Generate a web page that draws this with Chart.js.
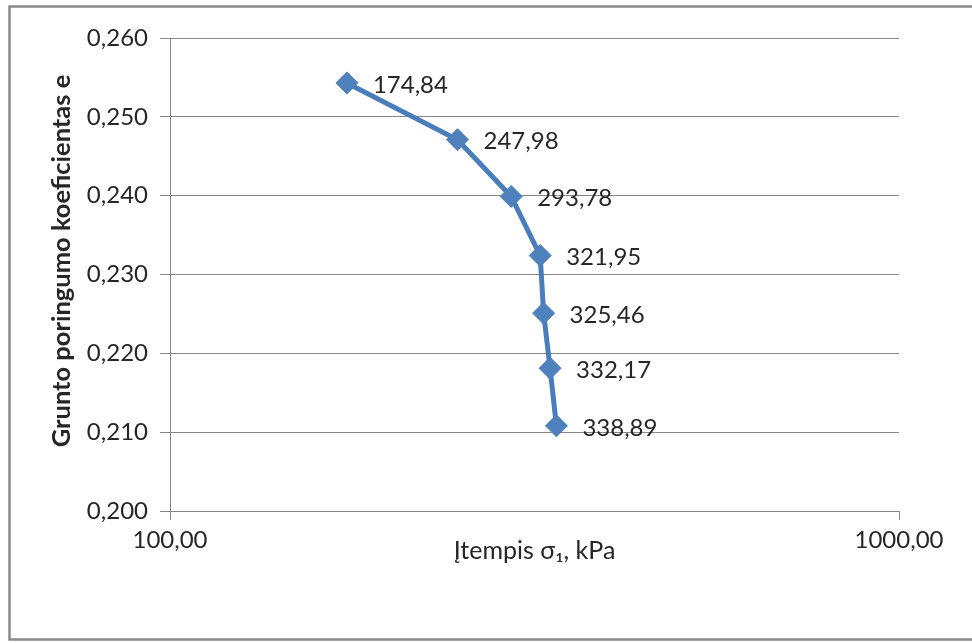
<!DOCTYPE html>
<html>
<head>
<meta charset="utf-8">
<script src="https://cdn.jsdelivr.net/npm/chart.js@4/dist/chart.umd.min.js"></script>
<style>
  html, body { margin: 0; padding: 0; background: #fff; }
  #wrap { width: 972px; height: 643px; }
</style>
</head>
<body>
<div id="wrap"><canvas id="c" width="972" height="643"></canvas></div>
<script>
// Compression test: effective stress (kPa) vs. soil void ratio e
const stress = [174.84, 247.98, 293.78, 321.95, 325.46, 332.17, 338.89];
const voidRatio = [0.2543, 0.2471, 0.2399, 0.2324, 0.2251, 0.2181, 0.2108];
const xTickValues = [100, 1000];
const yTickValues = [0.200, 0.210, 0.220, 0.230, 0.240, 0.250, 0.260];
const xTitle = 'Įtempis σ₁, kPa';
const yTitle = 'Grunto poringumo koeficientas e';

const FONT = 'Lato, "Open Sans", sans-serif';
const TEXT = '#262626';
const GRID = '#878787';
const BLUE = '#4A7EBB';

const comma = (v, d) => v.toFixed(d).replace('.', ',');

// outer frame and white background
const framePlugin = {
  id: 'frame',
  beforeDraw(chart) {
    const ctx = chart.ctx;
    ctx.save();
    ctx.fillStyle = '#fff';
    ctx.fillRect(0, 0, chart.width, chart.height);
    ctx.strokeStyle = '#8a8a8a';
    ctx.lineWidth = 2.5;
    ctx.strokeRect(9.5, 6.5, chart.width + 10, 633);
    ctx.restore();
  }
};

// vertical axis title, set slightly above the plot's middle
const yTitlePlugin = {
  id: 'yTitle',
  afterDraw(chart) {
    const ctx = chart.ctx;
    ctx.save();
    ctx.translate(62, 261);
    ctx.rotate(-Math.PI / 2);
    ctx.font = 'bold 25.5px ' + FONT;
    ctx.fillStyle = TEXT;
    ctx.textAlign = 'center';
    ctx.textBaseline = 'middle';
    ctx.fillText(yTitle, 0, 0);
    ctx.restore();
  }
};

// value labels to the right of each marker
const valueLabels = {
  id: 'valueLabels',
  afterDatasetsDraw(chart) {
    const ctx = chart.ctx;
    const meta = chart.getDatasetMeta(0);
    ctx.save();
    ctx.font = '24px ' + FONT;
    ctx.fillStyle = TEXT;
    ctx.textAlign = 'left';
    ctx.textBaseline = 'middle';
    meta.data.forEach((pt, i) => {
      ctx.fillText(comma(stress[i], 2), pt.x + 26, pt.y + 2);
    });
    ctx.restore();
  }
};

new Chart(document.getElementById('c'), {
  type: 'line',
  data: {
    datasets: [{
      data: stress.map((x, i) => ({ x: x, y: voidRatio[i] })),
      borderColor: BLUE,
      borderWidth: 5,
      backgroundColor: '#4F81BD',
      pointStyle: 'rectRot',
      pointRadius: 11,
      pointHoverRadius: 11,
      pointBorderColor: '#4F81BD',
      pointBorderWidth: 1,
      tension: 0,
      fill: false
    }]
  },
  options: {
    responsive: false,
    devicePixelRatio: 1,
    animation: false,
    events: [],
    layout: { padding: { left: 40, top: 38, right: 73, bottom: 0 } },
    plugins: {
      legend: { display: false },
      tooltip: { enabled: false },
      title: { display: false }
    },
    scales: {
      x: {
        type: 'logarithmic',
        min: 100,
        max: 1000,
        afterBuildTicks(scale) { scale.ticks = xTickValues.map(v => ({ value: v })); },
        afterFit(scale) { scale.height = 643 - 511; },
        border: { display: true, color: GRID, width: 1 },
        grid: { drawOnChartArea: false, drawTicks: true, tickLength: 9, color: GRID },
        ticks: {
          autoSkip: false,
          maxRotation: 0,
          padding: 6,
          color: TEXT,
          font: { family: FONT, size: 24 },
          callback: (v) => comma(v, 2)
        },
        title: {
          display: true,
          text: xTitle,
          color: TEXT,
          font: { family: FONT, size: 25 },
          padding: { top: 0, bottom: 77 }
        }
      },
      y: {
        min: 0.2,
        max: 0.26,
        afterBuildTicks(scale) { scale.ticks = yTickValues.map(v => ({ value: v })); },
        afterFit(scale) { scale.width = 170 - 40; },
        border: { display: true, color: GRID, width: 1 },
        grid: { drawTicks: true, tickLength: 10, color: GRID, lineWidth: 1 },
        ticks: {
          padding: 12,
          color: TEXT,
          font: { family: FONT, size: 24 },
          callback: (v) => comma(v, 3)
        },
        title: { display: false }
      }
    }
  },
  plugins: [framePlugin, valueLabels, yTitlePlugin]
});
</script>
</body>
</html>
